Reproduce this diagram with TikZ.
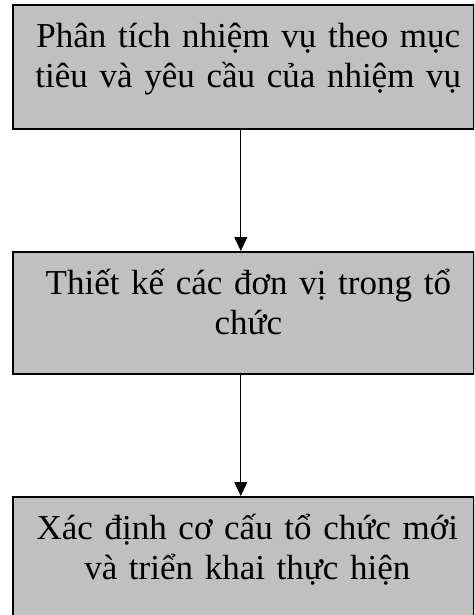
\documentclass[tikz,border=0pt]{standalone}
\usepackage{fontspec}
\setmainfont{Liberation Serif}[WordSpace=0.85]
\usetikzlibrary{arrows.meta}
\definecolor{boxgray}{HTML}{C0C0C0}
\tikzset{
  stagebox/.style={draw=black, line width=1.6pt, fill=boxgray, anchor=north west,
    minimum width=461pt, inner sep=0pt},
  stagetext/.style={anchor=north, inner sep=0pt, align=center, text width=449pt,
    font=\fontsize{35}{40}\selectfont, text height=43pt, text depth=40pt},
  flow/.style={line width=1pt, -{Triangle[length=14pt,width=13pt]}}
}
\begin{document}
\begin{tikzpicture}[x=1pt,y=-1pt]
  \useasboundingbox (0,0) rectangle (474,615);
  \clip (0,0) rectangle (474,615);
  % the three stages
  \node[stagebox, minimum height=124pt] (analyse) at (12,4) {};
  \node[stagebox, minimum height=122pt] (units) at (12,251) {};
  \node[stagebox, minimum height=160pt] (deploy) at (12,496) {};
  % their texts, set from the top edge of each box
  \node[stagetext] (analyseText) at ([xshift=5pt]analyse.north)
    {Phân tích nhiệm vụ theo mục\\tiêu và yêu cầu của nhiệm vụ};
  \node[stagetext] (unitsText) at ([xshift=5pt]units.north)
    {Thiết kế các đơn vị trong tổ\\chức};
  \node[stagetext] (deployText) at ([xshift=4pt]deploy.north)
    {Xác định cơ cấu tổ chức mới\\và triển khai thực hiện};
  % connectors
  \draw[flow] ([xshift=-2.5pt]analyse.south) -- ([xshift=-2.5pt]units.north);
  \draw[flow] ([xshift=-2.5pt]units.south) -- ([xshift=-2.5pt]deploy.north);
\end{tikzpicture}
\end{document}
